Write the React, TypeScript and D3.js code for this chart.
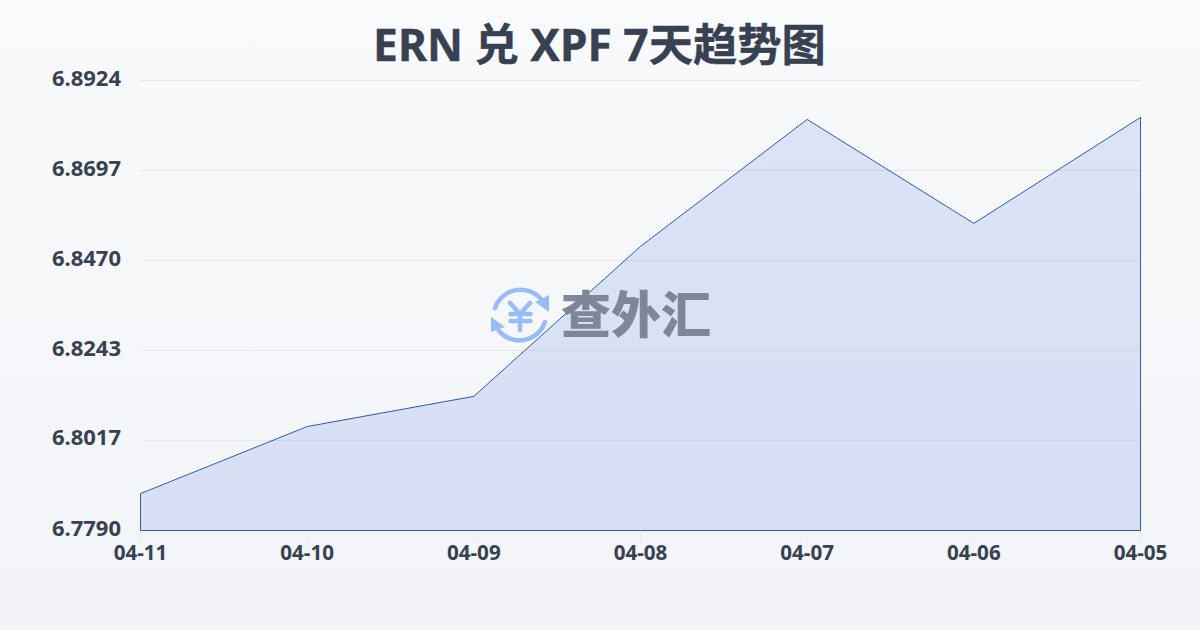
import React from "react";
import * as d3 from "d3";

const dates = ["04-11", "04-10", "04-09", "04-08", "04-07", "04-06", "04-05"];
const rates = [6.7883, 6.8052, 6.8128, 6.8506, 6.8826, 6.8564, 6.8831];
const yTicks = ["6.7790", "6.8017", "6.8243", "6.8470", "6.8697", "6.8924"];
const titleText = "ERN 兑 XPF 7天趋势图";
const watermarkText = "查外汇";
const yMin = 6.779;
const yMax = 6.8924;

const W = 1200, H = 630;
const L = 140.5, R = 1140.5, T = 80.5, B = 530.5;
const sans = "'Noto Sans', 'Noto Sans CJK SC', sans-serif";
const cjk = "'Noto Sans CJK SC', 'Noto Sans', sans-serif";

export default function App() {
  const x = d3.scalePoint<string>().domain(dates).range([L, R]);
  const y = d3.scaleLinear().domain([yMin, yMax]).range([B, T]);
  const pts = dates.map((d, i) => ({ d, v: rates[i] }));
  const area = d3.area<{ d: string; v: number }>().x(p => x(p.d)!).y0(B).y1(p => y(p.v))(pts)!;
  return (
    <svg width={W} height={H} viewBox={`0 0 ${W} ${H}`} style={{ position: "fixed", left: 0, top: 0, display: "block" }}>
      <defs>
        <linearGradient id="bg" x1="0" y1="0" x2="0" y2="1">
          <stop offset="0" stopColor="#f9fafc" />
          <stop offset="1" stopColor="#f3f4f7" />
        </linearGradient>
      </defs>
      <rect width={W} height={H} fill="url(#bg)" />
      <text x={599.5} y={60.5} textAnchor="middle" fontFamily={sans} fontWeight={700} fontSize={44.3} fill="#374151" stroke="#374151" strokeWidth={0.4}>{titleText}</text>
      {yTicks.map(t => (
        <g key={t}>
          <line x1={L} x2={R} y1={Math.round(y(+t) - 0.5) + 0.5} y2={Math.round(y(+t) - 0.5) + 0.5} stroke="#e5e7eb" strokeWidth={1} />
          <text x={121} y={y(+t) + 5} textAnchor="end" fontFamily={sans} fontWeight={700} fontSize={22} fill="#374151">{t}</text>
        </g>
      ))}
      {dates.map(d => (
        <g key={d}>
          <line x1={x(d)!} x2={x(d)!} y1={B} y2={B + 10} stroke="#e5e7eb" />
          <text x={x(d)!} y={559.5} textAnchor="middle" fontFamily={sans} fontWeight={700} fontSize={20.6} fill="#374151">{d}</text>
        </g>
      ))}
      <path d={area} fill="#3568dc" fillOpacity={0.15} stroke="#2a5bb8" strokeWidth={1} />
      <g opacity={0.95}>
        <g fill="none" stroke="#93b9f8" strokeWidth={4.5} strokeLinecap="round">
          <path d="M495 308 A27 27 0 0 1 541 299" />
          <path d="M545 322 A27 27 0 0 1 499 331" />
          <path d="M510 303 L520 314 L530 303 M520 314 V330 M510.5 314 H530.5 M510.5 321 H530.5" strokeWidth={4.5} />
        </g>
        <path d="M535 302 L549 295 L549 312 Z M491 317 L505 327 L491 332 Z" fill="#93b9f8" />
        <text x={636} y={333} textAnchor="middle" fontFamily={cjk} fontWeight={900} fontSize={50} fill="#7a8294">{watermarkText}</text>
      </g>
    </svg>
  );
}
